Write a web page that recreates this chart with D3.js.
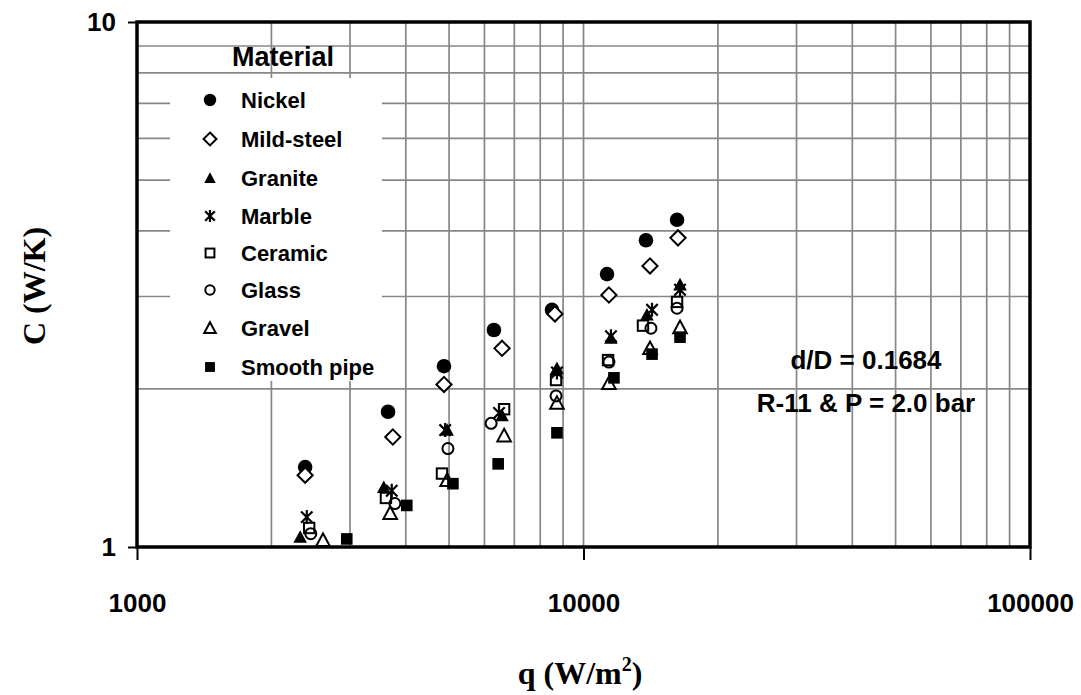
<!DOCTYPE html>
<html>
<head>
<meta charset="utf-8">
<script src="https://cdn.jsdelivr.net/npm/d3@7"></script>
<style>
  html, body { margin: 0; padding: 0; background: #fff; }
  svg { display: block; }
  text { font-family: "Liberation Sans", Arial, sans-serif; font-weight: bold; fill: #000; }
  .serif { font-family: "Liberation Serif", "Times New Roman", serif; }
</style>
</head>
<body>
<svg id="chart" width="1081" height="695"></svg>
<script>
// Heat transfer coefficient C (W/K) against heat flux q (W/m2), per heating-surface material.
const materials = ["Nickel", "Mild-steel", "Granite", "Marble", "Ceramic", "Glass", "Gravel", "Smooth pipe"];

// [q (W/m2), C (W/K)]
const nickel     = [[2380, 1.42], [3650, 1.81], [4870, 2.21], [6300, 2.59], [8500, 2.83], [11290, 3.31], [13800, 3.84], [16200, 4.20]];
const mildSteel  = [[2380, 1.37], [3740, 1.62], [4870, 2.04], [6570, 2.39], [8630, 2.78], [11400, 3.02], [14090, 3.43], [16280, 3.88]];
const granite    = [[2320, 1.045], [3570, 1.30], [4950, 1.67], [6570, 1.78], [8720, 2.19], [11520, 2.50], [13870, 2.77], [16450, 3.16]];
const marble     = [[2400, 1.14], [3720, 1.28], [4900, 1.67], [6470, 1.80], [8720, 2.15], [11520, 2.52], [14240, 2.83], [16450, 3.09]];
const ceramic    = [[2430, 1.087], [3610, 1.24], [4820, 1.38], [6640, 1.83], [8680, 2.08], [11350, 2.27], [13590, 2.64], [16200, 2.93]];
const glass      = [[2450, 1.06], [3780, 1.21], [4970, 1.54], [6210, 1.72], [8680, 1.94], [11400, 2.25], [14160, 2.61], [16200, 2.85]];
const gravel     = [[2610, 1.03], [3690, 1.16], [4950, 1.34], [6640, 1.63], [8720, 1.88], [11400, 2.05], [14090, 2.39], [16450, 2.62]];
const smoothPipe = [[2950, 1.036], [4020, 1.20], [5100, 1.32], [6440, 1.44], [8720, 1.65], [11700, 2.10], [14240, 2.33], [16450, 2.51]];

const seriesData = [nickel, mildSteel, granite, marble, ceramic, glass, gravel, smoothPipe];
const markerTypes = ["filledCircle", "openDiamond", "filledTriangle", "asterisk", "openSquare", "openCircle", "openTriangle", "filledSquare"];

const xTickValues = [1000, 10000, 100000];
const yTickValues = [1, 10];
const xGridValues = [2000, 3000, 4000, 5000, 6000, 7000, 8000, 9000, 10000, 20000, 30000, 40000, 50000, 60000, 70000, 80000, 90000];
const yGridValues = [2, 3, 4, 5, 6, 7, 8, 9];

const annotations = ["d/D = 0.1684", "R-11 & P = 2.0 bar"];

const svg = d3.select("#chart");
const plotLeft = 137, plotRight = 1030, plotTop = 22, plotBottom = 547;

const x = d3.scaleLog().domain([1000, 100000]).range([plotLeft, plotRight]);
const y = d3.scaleLog().domain([1, 10]).range([plotBottom, plotTop]);

// grid
const grid = svg.append("g").attr("stroke", "#878787").attr("stroke-width", 1.7);
grid.selectAll("line.vx").data(xGridValues).join("line")
  .attr("x1", d => x(d)).attr("x2", d => x(d)).attr("y1", plotTop).attr("y2", plotBottom);
grid.selectAll("line.hy").data(yGridValues).join("line")
  .attr("x1", plotLeft).attr("x2", plotRight).attr("y1", d => y(d)).attr("y2", d => y(d));

// legend panel (white background covers the grid)
svg.append("rect").attr("x", 170).attr("y", 78).attr("width", 212).attr("height", 303).attr("fill", "#fff");

// axes
const xAxis = d3.axisBottom(x).tickValues(xTickValues).tickFormat(d3.format("d")).tickSize(13).tickPadding(34);
const gx = svg.append("g").attr("transform", `translate(0,${plotBottom})`).call(xAxis);
gx.select(".domain").remove();
gx.selectAll(".tick line").attr("stroke", "#000").attr("stroke-width", 2);
gx.selectAll(".tick text").attr("font-size", 26).attr("font-family", "Liberation Sans, Arial, sans-serif").attr("font-weight", "bold");

const yAxis = d3.axisLeft(y).tickValues(yTickValues).tickFormat(d3.format("d")).tickSize(9).tickPadding(12);
const gy = svg.append("g").attr("transform", `translate(${plotLeft},0)`).call(yAxis);
gy.select(".domain").remove();
gy.selectAll(".tick line").attr("stroke", "#000").attr("stroke-width", 2);
gy.selectAll(".tick text").attr("font-size", 26).attr("font-family", "Liberation Sans, Arial, sans-serif").attr("font-weight", "bold");

// frame
svg.append("rect").attr("x", plotLeft).attr("y", plotTop).attr("width", plotRight - plotLeft).attr("height", plotBottom - plotTop)
  .attr("fill", "none").attr("stroke", "#000").attr("stroke-width", 3.5);

// axis titles
svg.append("text").attr("class", "serif").attr("transform", "translate(45,286) rotate(-90)")
  .attr("text-anchor", "middle").attr("font-size", 32).text("C (W/K)");
const xt = svg.append("text").attr("class", "serif").attr("x", 580).attr("y", 684)
  .attr("text-anchor", "middle").attr("font-size", 32);
xt.append("tspan").text("q (W/m");
xt.append("tspan").attr("font-size", 20).attr("dy", -13).text("2");
xt.append("tspan").attr("dy", 13).text(")");

// marker drawing
function drawMarker(g, type, s) {
  const sw = 2;
  switch (type) {
    case "filledCircle":
      g.append("circle").attr("r", 7.3 * s).attr("fill", "#000"); break;
    case "openCircle":
      g.append("circle").attr("r", 5.5 * s).attr("fill", "none").attr("stroke", "#000").attr("stroke-width", sw); break;
    case "openDiamond": {
      const h = 7.6 * s;
      g.append("path").attr("d", `M0,${-h}L${h},0L0,${h}L${-h},0Z`).attr("fill", "#fff").attr("stroke", "#000").attr("stroke-width", sw); break;
    }
    case "filledTriangle": case "openTriangle": {
      const w = 6.8 * s, h = 6.8 * s;
      const p = g.append("path").attr("d", `M0,${-h}L${w},${h * 0.85}L${-w},${h * 0.85}Z`);
      if (type === "filledTriangle") p.attr("fill", "#000");
      else p.attr("fill", "none").attr("stroke", "#000").attr("stroke-width", sw);
      break;
    }
    case "asterisk": {
      const a = 5.7 * s, v = 7 * s;
      g.append("path").attr("d", `M${-a},${-a}L${a},${a}M${a},${-a}L${-a},${a}M0,${-v}L0,${v}`)
        .attr("fill", "none").attr("stroke", "#000").attr("stroke-width", 2.2);
      break;
    }
    case "openSquare": {
      const h = 5.2 * s;
      g.append("rect").attr("x", -h).attr("y", -h).attr("width", 2 * h).attr("height", 2 * h)
        .attr("fill", "none").attr("stroke", "#000").attr("stroke-width", sw); break;
    }
    case "filledSquare": {
      const h = 5.8 * s;
      g.append("rect").attr("x", -h).attr("y", -h).attr("width", 2 * h).attr("height", 2 * h).attr("fill", "#000"); break;
    }
  }
}

// data points
seriesData.forEach((data, i) => {
  const gs = svg.append("g").attr("class", "series");
  gs.selectAll("g").data(data).join("g")
    .attr("transform", d => `translate(${x(d[0])},${y(d[1])})`)
    .each(function () { drawMarker(d3.select(this), markerTypes[i], 1); });
});

// legend
svg.append("text").attr("x", 232).attr("y", 66).attr("font-size", 27).text("Material");
const legendRows = [100, 139, 178, 216, 253, 290, 328, 367];
materials.forEach((m, i) => {
  const g = svg.append("g").attr("transform", `translate(210,${legendRows[i]})`);
  drawMarker(g, markerTypes[i], 0.85);
  svg.append("text").attr("x", 241).attr("y", legendRows[i] + 8).attr("font-size", 22).text(m);
});

// annotations
svg.append("text").attr("x", 866).attr("y", 369).attr("text-anchor", "middle").attr("font-size", 26).text(annotations[0]);
svg.append("text").attr("x", 866).attr("y", 412).attr("text-anchor", "middle").attr("font-size", 26).text(annotations[1]);
</script>
</body>
</html>
